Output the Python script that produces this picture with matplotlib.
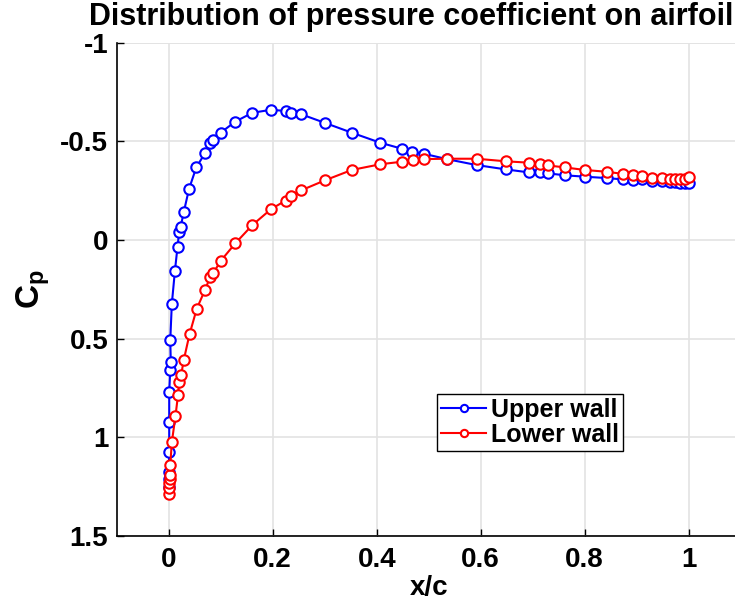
import matplotlib
matplotlib.use("Agg")
import matplotlib.pyplot as plt

plt.rcParams["font.family"] = ["Liberation Sans", "DejaVu Sans"]
plt.rcParams["font.weight"] = "bold"
plt.rcParams["axes.unicode_minus"] = False
plt.rcParams["mathtext.fontset"] = "custom"
plt.rcParams["mathtext.bf"] = "Liberation Sans:bold"
plt.rcParams["mathtext.rm"] = "Liberation Sans:bold"

# upper surface, leading edge -> trailing edge
upper_x = [0.0, 0.0, 0.0, 0.001, 0.001, 0.001, 0.003, 0.004, 0.003, 0.006,
           0.012, 0.017, 0.020, 0.023, 0.029, 0.039, 0.053, 0.070, 0.080, 0.086,
           0.10, 0.128, 0.161, 0.197, 0.225, 0.235, 0.254, 0.30, 0.352, 0.407,
           0.448, 0.468, 0.491, 0.535, 0.592, 0.648, 0.692, 0.714, 0.729, 0.762,
           0.80, 0.842, 0.874, 0.892, 0.911, 0.93, 0.949, 0.964, 0.974, 0.983,
           0.993, 1.0]
upper_cp = [1.25, 1.21, 1.174, 1.074, 0.924, 0.769, 0.659, 0.617, 0.507, 0.324,
            0.155, 0.034, -0.04, -0.067, -0.142, -0.258, -0.368, -0.441, -0.49, -0.507,
            -0.544, -0.60, -0.645, -0.66, -0.654, -0.645, -0.638, -0.594, -0.544, -0.493,
            -0.463, -0.446, -0.437, -0.41, -0.38, -0.358, -0.343, -0.343, -0.338, -0.328,
            -0.321, -0.314, -0.307, -0.304, -0.309, -0.30, -0.299, -0.293, -0.292, -0.29,
            -0.29, -0.288]

# lower surface
lower_x = [0.0, 0.0, 0.001, 0.002, 0.003, 0.003, 0.006, 0.013, 0.018, 0.020,
           0.024, 0.029, 0.040, 0.054, 0.070, 0.080, 0.086, 0.10, 0.128, 0.161,
           0.197, 0.225, 0.236, 0.255, 0.30, 0.352, 0.407, 0.449, 0.469, 0.491,
           0.535, 0.592, 0.648, 0.692, 0.714, 0.729, 0.762, 0.80, 0.842, 0.874,
           0.892, 0.911, 0.93, 0.949, 0.964, 0.974, 0.983, 0.993, 1.0]
lower_cp = [1.287, 1.258, 1.233, 1.213, 1.19, 1.14, 1.025, 0.892, 0.784, 0.72,
            0.683, 0.608, 0.478, 0.348, 0.252, 0.186, 0.166, 0.106, 0.017, -0.076,
            -0.157, -0.2, -0.223, -0.252, -0.302, -0.355, -0.384, -0.397, -0.405, -0.41,
            -0.412, -0.412, -0.399, -0.392, -0.385, -0.378, -0.368, -0.355, -0.346, -0.335,
            -0.329, -0.324, -0.316, -0.316, -0.31, -0.31, -0.31, -0.31, -0.319]

xticks = [0, 0.2, 0.4, 0.6, 0.8, 1]
xtick_labels = ["0", "0.2", "0.4", "0.6", "0.8", "1"]
yticks = [-1, -0.5, 0, 0.5, 1, 1.5]
ytick_labels = ["-1", "-0.5", "0", "0.5", "1", "1.5"]

fig = plt.figure(figsize=(7.35, 6.01), dpi=100)
ax = fig.add_axes([116.7 / 735, 65 / 601, 624 / 735, 493.3 / 601])

style = dict(marker="o", markersize=7.5, markeredgewidth=1.5,
             markerfacecolor="white", linewidth=1.5)
ax.plot(upper_x, upper_cp, color="#0000ff", label="Upper wall", **style)
ax.plot(lower_x, lower_cp, color="#ff0000", label="Lower wall", **style)

ax.set_xlim(-0.1, 1.1)
ax.set_ylim(1.5, -1)
ax.set_xticks(xticks)
ax.set_xticklabels(xtick_labels)
ax.set_yticks(yticks)
ax.set_yticklabels(ytick_labels)
ax.tick_params(direction="in", length=5, width=1, labelsize=20)
ax.tick_params(axis="y", pad=6)
ax.tick_params(axis="x", pad=8)
for lab in ax.get_xticklabels() + ax.get_yticklabels():
    lab.set_fontweight("bold")

ax.spines["top"].set_visible(False)
ax.spines["right"].set_visible(False)
ax.spines["left"].set_linewidth(1.2)
ax.spines["bottom"].set_linewidth(1.2)
ax.grid(True, color="#e3e3e3", linewidth=1.2)
ax.axhline(-1, color="#e3e3e3", linewidth=1.2, zorder=0)
ax.set_axisbelow(True)

ax.set_xlabel("x/c", fontsize=20, fontweight="bold")
ax.xaxis.set_label_coords(0.5, -0.1196)
ax.xaxis.label.set_va("baseline")
ax.set_ylabel(r"$\mathbf{C_p}$", fontsize=24)
ax.yaxis.set_label_coords(-0.134, 0.5)
ax.yaxis.label.set_va("center")

fig.text(411 / 735, 1 - 17 / 601, "Distribution of pressure coefficient on airfoil",
         ha="center", va="center", fontsize=22, fontweight="bold")

leg = ax.legend(loc="upper left", bbox_to_anchor=(0.514, 0.288), fontsize=18,
                frameon=True, fancybox=False, edgecolor="black", framealpha=1,
                handlelength=1.8, handletextpad=0.2, borderpad=0.15,
                labelspacing=0.05, borderaxespad=0, markerscale=0.7)
leg.get_frame().set_linewidth(1.0)
for t in leg.get_texts():
    t.set_fontweight("bold")

fig.savefig("out.png", dpi=100)
